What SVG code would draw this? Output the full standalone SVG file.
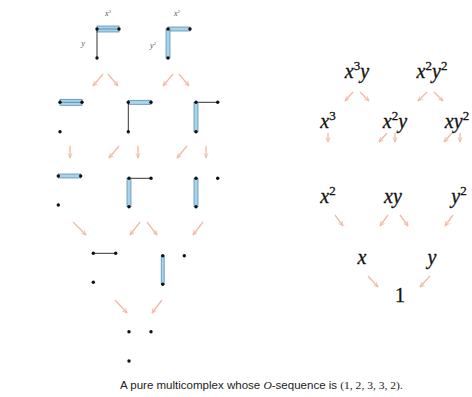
<svg xmlns="http://www.w3.org/2000/svg" width="472" height="397" viewBox="0 0 472 397">
<defs>
<marker id="ah" viewBox="0 0 10 10" refX="9" refY="5" markerWidth="4" markerHeight="4" orient="auto" markerUnits="strokeWidth">
<path d="M0,1 L9,5 L0,9" fill="none" stroke="#f3b9a3" stroke-width="1.6"/>
</marker>
</defs>
<style>
.bg{fill:#ffffff}
.arr line{stroke:#f3b9a3;stroke-width:1.3;marker-end:url(#ah)}
.band{fill:#a9d3ea;stroke:#4a85a8;stroke-width:0.7}
.mid{stroke:#3d6f8f;stroke-width:0.7}
.edge{stroke:#333;stroke-width:1}
.dot{fill:#111}
.lbl{font-family:"Liberation Serif",serif;font-style:italic;font-size:8px;fill:#555}
.m{font-family:"Liberation Serif","DejaVu Serif",serif;font-size:20px;fill:#111;stroke:#111;stroke-width:0.3}
.i{font-style:italic}
.cap{font-family:"Liberation Sans",Arial,sans-serif;font-size:11px;fill:#222}
</style>
<rect class="bg" x="0" y="0" width="472" height="397"/>

<g id="tile-x3y">
<rect class="band" x="97" y="26" width="22" height="6"/>
<line class="mid" x1="97" y1="29" x2="119" y2="29"/>
<line class="edge" x1="97" y1="29" x2="97" y2="58"/>
<circle class="dot" cx="97" cy="29" r="1.7"/><circle class="dot" cx="119" cy="29" r="1.7"/><circle class="dot" cx="97" cy="58" r="1.7"/>
<text class="lbl" x="108" y="16" text-anchor="middle">x<tspan font-size="5" dy="-3">3</tspan></text>
<text class="lbl" x="83" y="46" text-anchor="middle">y</text>
</g>
<g id="tile-x2y2">
<rect class="band" x="168" y="27" width="22" height="4"/>
<rect class="band" x="166" y="29" width="4" height="29"/>
<circle class="dot" cx="168" cy="29" r="1.7"/><circle class="dot" cx="190" cy="29" r="1.7"/><circle class="dot" cx="168" cy="58" r="1.7"/>
<text class="lbl" x="177" y="16" text-anchor="middle">x<tspan font-size="5" dy="-3">2</tspan></text>
<text class="lbl" x="153" y="48" text-anchor="middle">y<tspan font-size="5" dy="-3">2</tspan></text>
</g>

<g id="tile-x3">
<rect class="band" x="60" y="99.3" width="22" height="6"/>
<line class="mid" x1="60" y1="102.3" x2="82" y2="102.3"/>
<circle class="dot" cx="60" cy="102.3" r="1.7"/><circle class="dot" cx="82" cy="102.3" r="1.7"/><circle class="dot" cx="60" cy="131.7" r="1.7"/>
</g>
<g id="tile-x2y">
<rect class="band" x="128.3" y="100.3" width="22.7" height="4"/>
<line class="edge" x1="128.3" y1="102.3" x2="128.3" y2="131.7"/>
<circle class="dot" cx="128.3" cy="102.3" r="1.7"/><circle class="dot" cx="151" cy="102.3" r="1.7"/><circle class="dot" cx="128.3" cy="131.7" r="1.7"/>
</g>
<g id="tile-xy2">
<line class="edge" x1="196" y1="102.3" x2="217.7" y2="102.3"/>
<rect class="band" x="194" y="102.3" width="4" height="29.4"/>
<circle class="dot" cx="196" cy="102.3" r="1.7"/><circle class="dot" cx="217.7" cy="102.3" r="1.7"/><circle class="dot" cx="196" cy="131.7" r="1.7"/>
</g>

<g id="tile-x2">
<rect class="band" x="58.3" y="174" width="22.4" height="4"/>
<circle class="dot" cx="58.3" cy="176" r="1.7"/><circle class="dot" cx="80.7" cy="176" r="1.7"/><circle class="dot" cx="58.3" cy="205" r="1.7"/>
</g>
<g id="tile-xy">
<line class="edge" x1="129" y1="178.3" x2="151" y2="178.3"/>
<rect class="band" x="127" y="178.3" width="4" height="28.4"/>
<circle class="dot" cx="129" cy="178.3" r="1.7"/><circle class="dot" cx="151" cy="178.3" r="1.7"/><circle class="dot" cx="129" cy="206.7" r="1.7"/>
</g>
<g id="tile-y2">
<rect class="band" x="194" y="178.3" width="4" height="28.4"/>
<circle class="dot" cx="196" cy="178.3" r="1.7"/><circle class="dot" cx="217.7" cy="178.3" r="1.7"/><circle class="dot" cx="196" cy="206.7" r="1.7"/>
</g>

<g id="tile-x">
<line class="edge" x1="93.3" y1="253.3" x2="115.7" y2="253.3"/>
<circle class="dot" cx="93.3" cy="253.3" r="1.7"/><circle class="dot" cx="115.7" cy="253.3" r="1.7"/><circle class="dot" cx="93.3" cy="282.3" r="1.7"/>
</g>
<g id="tile-y">
<rect class="band" x="161.2" y="255.7" width="3" height="28.6"/>
<circle class="dot" cx="162.7" cy="255.7" r="1.7"/><circle class="dot" cx="162.7" cy="284.3" r="1.7"/><circle class="dot" cx="184.3" cy="255.7" r="1.7"/>
</g>

<g id="tile-1">
<circle class="dot" cx="129" cy="331.7" r="1.7"/><circle class="dot" cx="151" cy="331.7" r="1.7"/><circle class="dot" cx="129" cy="361" r="1.7"/>
</g>

<g id="m-x3y"><text class="m" x="357" y="78" text-anchor="middle"><tspan class="i">x</tspan><tspan font-size="13" dy="-8">3</tspan><tspan class="i" dy="8">y</tspan></text></g>
<g id="m-x2y2"><text class="m" x="432" y="78" text-anchor="middle"><tspan class="i">x</tspan><tspan font-size="13" dy="-8">2</tspan><tspan class="i" dy="8">y</tspan><tspan font-size="13" dy="-8">2</tspan></text></g>
<g id="m-x3"><text class="m" x="328" y="128" text-anchor="middle"><tspan class="i">x</tspan><tspan font-size="13" dy="-8">3</tspan></text></g>
<g id="m-x2y"><text class="m" x="395" y="128" text-anchor="middle"><tspan class="i">x</tspan><tspan font-size="13" dy="-8">2</tspan><tspan class="i" dy="8">y</tspan></text></g>
<g id="m-xy2"><text class="m" x="457" y="128" text-anchor="middle"><tspan class="i">xy</tspan><tspan font-size="13" dy="-8">2</tspan></text></g>
<g id="m-x2"><text class="m" x="328" y="203" text-anchor="middle"><tspan class="i">x</tspan><tspan font-size="13" dy="-8">2</tspan></text></g>
<g id="m-xy"><text class="m i" x="393" y="203" text-anchor="middle">xy</text></g>
<g id="m-y2"><text class="m" x="459" y="203" text-anchor="middle"><tspan class="i">y</tspan><tspan font-size="13" dy="-8">2</tspan></text></g>
<g id="m-x"><text class="m i" x="362" y="264" text-anchor="middle">x</text></g>
<g id="m-y"><text class="m i" x="432" y="264" text-anchor="middle">y</text></g>
<g id="m-1"><text class="m" x="400" y="302" text-anchor="middle">1</text></g>

<g id="connectors" class="arr">
<line x1="103" y1="74" x2="93" y2="86"/><line x1="108" y1="74" x2="118" y2="86"/>
<line x1="173" y1="74" x2="163" y2="86"/><line x1="179" y1="74" x2="189" y2="86"/>
<line x1="70" y1="146" x2="70" y2="158"/>
<line x1="119" y1="146" x2="109" y2="158"/><line x1="138" y1="146" x2="138" y2="158"/>
<line x1="187" y1="146" x2="177" y2="158"/><line x1="206" y1="146" x2="206" y2="158"/>
<line x1="73" y1="222" x2="86" y2="235"/>
<line x1="140" y1="222" x2="130" y2="235"/><line x1="147" y1="222" x2="157" y2="235"/>
<line x1="203" y1="222" x2="193" y2="235"/>
<line x1="115" y1="300" x2="127" y2="313"/><line x1="162" y1="300" x2="152" y2="313"/>

<line x1="353" y1="92" x2="345" y2="101"/><line x1="360" y1="92" x2="369" y2="101"/>
<line x1="427" y1="92" x2="418" y2="101"/><line x1="434" y1="92" x2="443" y2="101"/>
<line x1="328" y1="133" x2="328" y2="142"/>
<line x1="387" y1="133" x2="379" y2="142"/><line x1="395" y1="133" x2="395" y2="142"/>
<line x1="452" y1="133" x2="444" y2="142"/><line x1="460" y1="133" x2="460" y2="142"/>
<line x1="335" y1="215" x2="343" y2="226"/>
<line x1="388" y1="215" x2="380" y2="226"/><line x1="400" y1="215" x2="408" y2="226"/>
<line x1="453" y1="215" x2="445" y2="226"/>
<line x1="368" y1="276" x2="378" y2="287"/><line x1="430" y1="276" x2="420" y2="287"/>
</g>

<text class="cap" x="120" y="389" textLength="283" lengthAdjust="spacingAndGlyphs">A pure multicomplex whose <tspan font-family="Liberation Serif,serif" font-style="italic">O</tspan>-sequence is <tspan font-family="Liberation Serif,serif">(1, 2, 3, 3, 2)</tspan>.</text>
</svg>
